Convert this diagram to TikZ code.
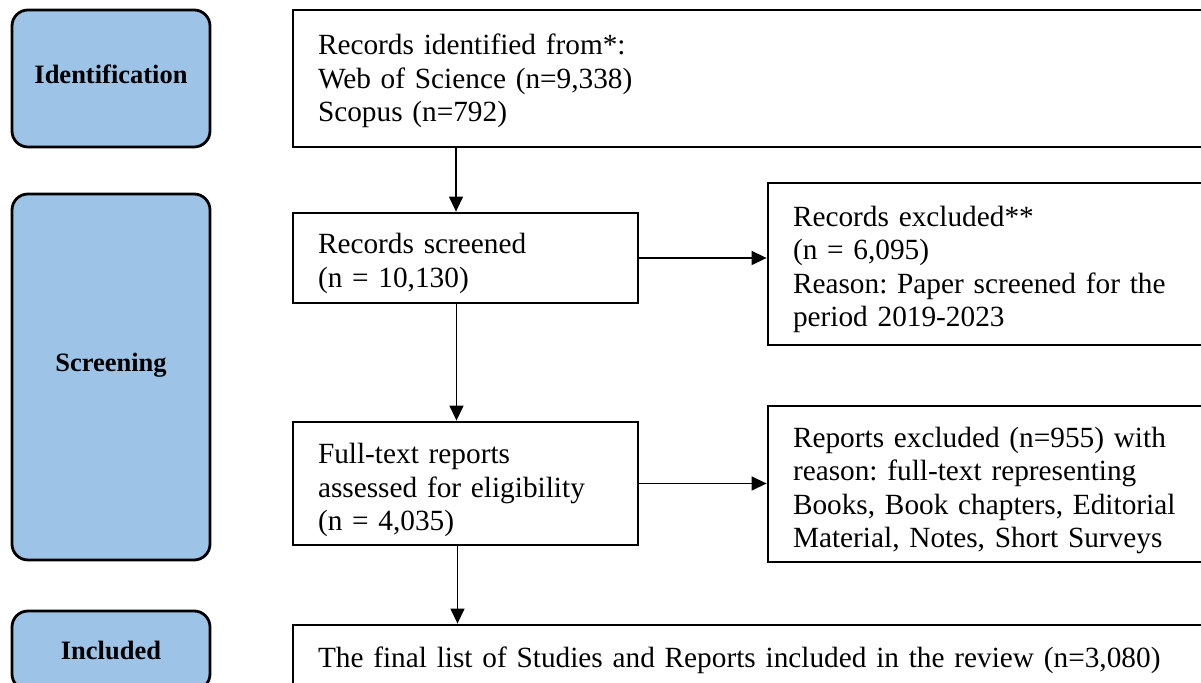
\documentclass[tikz,border=0pt]{standalone}
\usepackage{xcolor}
\usepackage{fontspec}
\setmainfont{Liberation Serif}
\usepackage{tikz}
\usetikzlibrary{arrows.meta, positioning}

\definecolor{stageblue}{RGB}{157,195,230}
\frenchspacing

\begin{document}
\begin{tikzpicture}[
    x=0.5pt, y=-0.5pt,
    stage/.style={rectangle, rounded corners=8pt, draw=black, fill=stageblue, line width=1.4pt, minimum width=99pt, font=\fontsize{13.25}{15}\selectfont\bfseries, align=center},
    recbox/.style={rectangle, draw=black, line width=1.4pt, inner xsep=12.5pt, font=\fontsize{14.65}{16.8}\selectfont, align=left},
    lower/.style={inner ysep=0pt, execute at begin node={\rule{0pt}{#1}}},
    arrow/.style={-{Triangle[length=7.5pt, width=7pt]}, line width=0.7pt, black}
]
\useasboundingbox (0,0) rectangle (1201,683);

% Stages on the left
\node[stage, minimum height=68.5pt, text depth=4.5pt] (ident) at (111,78.5) {Identification};
\node[stage, minimum height=183pt, text depth=15pt] (screen) at (111,377) {Screening};
\node[stage, minimum height=39.5pt] (incl) at (111,650.5) {Included};

% Identification
\node[recbox, text width=436pt, minimum height=68.5pt, lower=12.7pt] (found) at (754,78.5) {Records identified from*:\\Web of Science (n=9,338)\\Scopus (n=792)};

% Screening
\node[recbox, text width=147.5pt, minimum height=45pt, lower=15.7pt] (screened) at (465.5,258) {Records screened\\(n = 10,130)};
\node[recbox, text width=198.5pt, minimum height=81pt, lower=15.7pt] (excl) at (991.5,264) {Records excluded**\\(n = 6,095)\\Reason: Paper screened for the\\period 2019-2023};
\node[recbox, text width=147.5pt, minimum height=61.5pt, lower=16.7pt] (fulltext) at (465.5,483.5) {Full-text reports\\assessed for eligibility\\(n = 4,035)};
\node[recbox, text width=198.5pt, minimum height=78pt, lower=16.7pt] (rexcl) at (991.5,484) {Reports excluded (n=955) with\\reason: full-text representing\\Books, Book chapters, Editorial\\Material, Notes, Short Surveys};

% Included
\node[recbox, text width=436pt, minimum height=32.5pt, lower=12.7pt] (final) at (754,657.5) {The final list of Studies and Reports included in the review (n=3,080)};

% Arrows
\draw[arrow] ([xshift=-4.75pt]screened.north |- found.south) -- ([xshift=-4.75pt]screened.north);
\draw[arrow] ([xshift=-4.5pt]screened.south) -- ([xshift=-4.5pt]fulltext.north);
\draw[arrow] ([xshift=-4pt]fulltext.south) -- ([xshift=-4pt]fulltext.south |- final.north);
\draw[arrow] (screened.east) -- (screened.east -| excl.west);
\draw[arrow] (fulltext.east) -- (fulltext.east -| rexcl.west);
\end{tikzpicture}
\end{document}
